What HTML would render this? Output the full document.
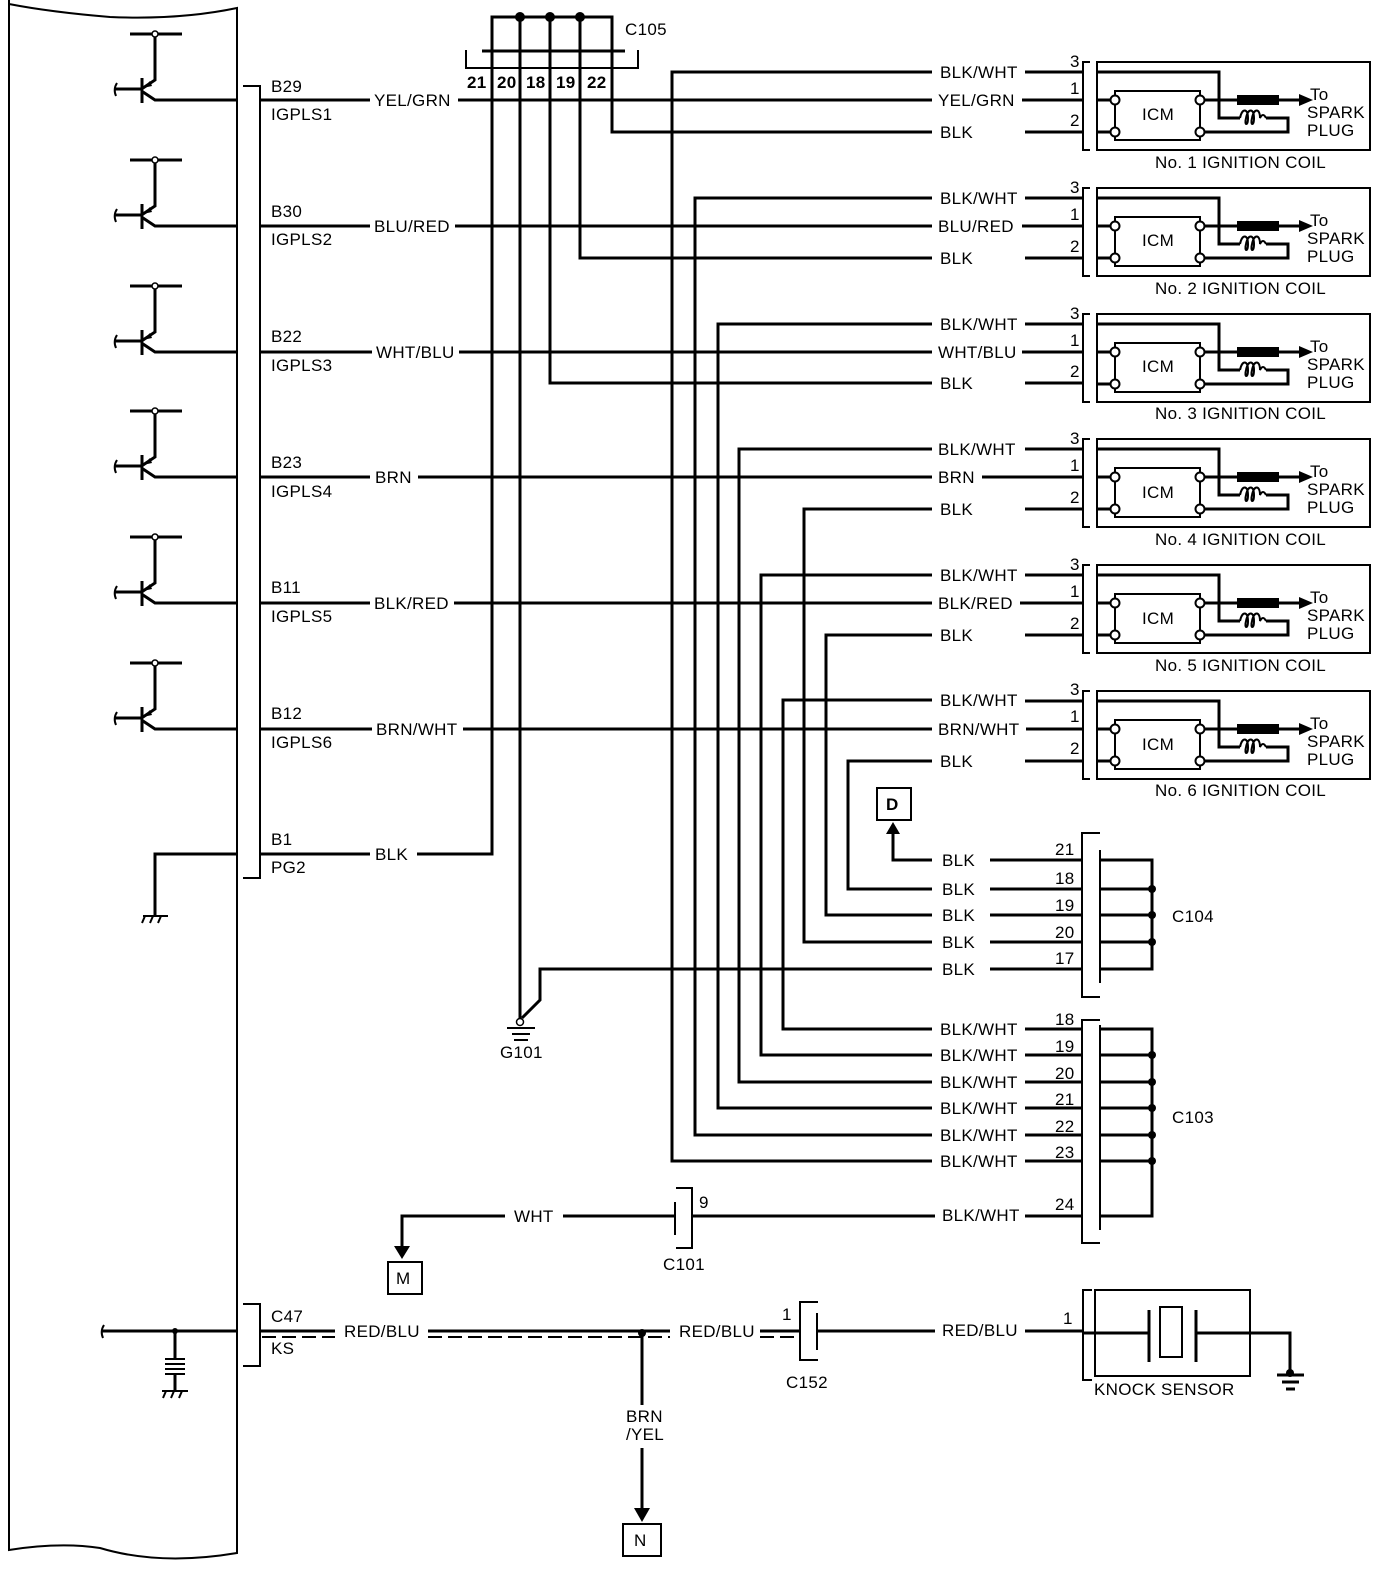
<!DOCTYPE html>
<html><head><meta charset="utf-8"><style>
html,body{margin:0;padding:0;background:#fff;}
svg{display:block;}
text{font-family:"Liberation Sans",sans-serif;font-size:17px;letter-spacing:0.3px;fill:#000;}
.w{stroke:#000;stroke-width:3;fill:none;}
.t{stroke:#000;stroke-width:2;fill:none;}
</style></head><body>
<svg width="1392" height="1572" viewBox="0 0 1392 1572" xmlns="http://www.w3.org/2000/svg">
<defs>
<g id="tr">
 <path class="w" d="M130,34 H182"/>
 <circle cx="155" cy="34" r="3" fill="#fff" stroke="#000" stroke-width="1.5"/>
 <path class="w" d="M155,37 V80 L143,88"/>
 <path class="w" d="M142,78 V103"/>
 <path class="w" d="M143,92 L155,100 H237"/>
 <path class="w" d="M115,89 H142"/>
 <path class="t" d="M117,83 Q113,89 116,96"/>
 <polygon points="143,88 150,81 152,86"/>
</g>
<g id="coil">
 <path class="t" d="M1090,62 H1083 V150 H1090"/>
 <rect x="1097" y="62" width="273" height="88" class="t"/>
 <rect x="1115" y="91" width="85" height="49" class="t"/>
 <path class="w" d="M1025,72 H1083"/>
 <path class="w" d="M1097,72 H1219 V118 H1240"/>
 <path class="t" d="M1240,118 c2,-10 8,-10 8,0 c0,8 -4,8 -2,0 c2,-10 8,-10 8,0 c0,8 -4,8 -2,0 c2,-10 8,-10 8,0 c2,-4 4,-4 6,0"/>
 <path class="w" d="M1266,118 H1288 V132 H1200"/>
 <path class="w" d="M1097,100 H1115 M1097,132 H1115"/>
 <path class="w" d="M1200,100 H1238 M1278,100 H1300"/>
 <rect x="1237" y="95" width="42" height="10"/>
 <polygon points="1299,94 1313,100 1299,106"/>
 <circle cx="1115" cy="100" r="4.5" fill="#fff" stroke="#000" stroke-width="2"/>
 <circle cx="1115" cy="132" r="4.5" fill="#fff" stroke="#000" stroke-width="2"/>
 <circle cx="1200" cy="100" r="4.5" fill="#fff" stroke="#000" stroke-width="2"/>
 <circle cx="1200" cy="132" r="4.5" fill="#fff" stroke="#000" stroke-width="2"/>
</g>
</defs>

<path class="t" d="M9,0 V1550 Q60,1542 100,1548 Q160,1566 237,1553 V8 Q180,20 110,17 Q50,12 9,4"/>

<use href="#tr"/>
<use href="#tr" y="126"/>
<use href="#tr" y="252"/>
<use href="#tr" y="377"/>
<use href="#tr" y="503"/>
<use href="#tr" y="629"/>

<path class="t" d="M243,86 H260 V878 H243"/>
<g>
<text x="271" y="92">B29</text><text x="271" y="120">IGPLS1</text>
<text x="271" y="217">B30</text><text x="271" y="245">IGPLS2</text>
<text x="271" y="342">B22</text><text x="271" y="371">IGPLS3</text>
<text x="271" y="468">B23</text><text x="271" y="497">IGPLS4</text>
<text x="271" y="593">B11</text><text x="271" y="622">IGPLS5</text>
<text x="271" y="719">B12</text><text x="271" y="748">IGPLS6</text>
<text x="271" y="845">B1</text><text x="271" y="873">PG2</text>
</g>

<path class="w" d="M237,854 H155 V915"/>
<path class="t" d="M143,916 H168 M145,916 l-3,7 M153,916 l-3,7 M161,916 l-3,7"/>

<path class="w" d="M260,100 H370 M458,100 H932 M1022,100 H1083"/>
<text x="374" y="106">YEL/GRN</text><text x="938" y="106">YEL/GRN</text>
<path class="w" d="M260,226 H370 M455,226 H932 M1022,226 H1083"/>
<text x="374" y="232">BLU/RED</text><text x="938" y="232">BLU/RED</text>
<path class="w" d="M260,352 H372 M459,352 H932 M1022,352 H1083"/>
<text x="376" y="358">WHT/BLU</text><text x="938" y="358">WHT/BLU</text>
<path class="w" d="M260,477 H370 M418,477 H932 M982,477 H1083"/>
<text x="375" y="483">BRN</text><text x="938" y="483">BRN</text>
<path class="w" d="M260,603 H370 M454,603 H932 M1020,603 H1083"/>
<text x="374" y="609">BLK/RED</text><text x="938" y="609">BLK/RED</text>
<path class="w" d="M260,729 H372 M463,729 H932 M1026,729 H1083"/>
<text x="376" y="735">BRN/WHT</text><text x="938" y="735">BRN/WHT</text>
<path class="w" d="M260,854 H370 M417,854 H492 V50"/>
<text x="375" y="860">BLK</text>

<path class="w" d="M492,50 V17 H612 V50 M520,17 V1020 M550,17 V383 H932 M580,17 V258 H932 M612,17 V132 H932"/>
<circle cx="520" cy="17" r="5"/><circle cx="550" cy="17" r="5"/><circle cx="580" cy="17" r="5"/>
<path class="w" d="M482,51 H625"/>
<path class="t" d="M466,50 V68 H638 V50"/>
<path class="t" d="M492,68 V100 M520,68 V100 M550,68 V100 M580,68 V100 M612,68 V100"/>
<text x="467" y="88" font-weight="bold" letter-spacing="0">21</text>
<text x="497" y="88" font-weight="bold" letter-spacing="0">20</text>
<text x="526" y="88" font-weight="bold" letter-spacing="0">18</text>
<text x="556" y="88" font-weight="bold" letter-spacing="0">19</text>
<text x="587" y="88" font-weight="bold" letter-spacing="0">22</text>
<text x="625" y="35">C105</text>

<use href="#coil"/>
<use href="#coil" y="126"/>
<use href="#coil" y="252"/>
<use href="#coil" y="377"/>
<use href="#coil" y="503"/>
<use href="#coil" y="629"/>
<g>
<path class="w" d="M1025,132 H1083 M1025,258 H1083 M1025,383 H1083 M1025,509 H1083 M1025,635 H1083 M1025,761 H1083"/>
<text x="940" y="78">BLK/WHT</text><text x="940" y="138">BLK</text>
<text x="940" y="204">BLK/WHT</text><text x="940" y="264">BLK</text>
<text x="940" y="330">BLK/WHT</text><text x="940" y="389">BLK</text>
<text x="938" y="455">BLK/WHT</text><text x="940" y="515">BLK</text>
<text x="940" y="581">BLK/WHT</text><text x="940" y="641">BLK</text>
<text x="940" y="706">BLK/WHT</text><text x="940" y="767">BLK</text>
</g>
<g font-size="16">
<text x="1070" y="67">3</text><text x="1070" y="94">1</text><text x="1070" y="126">2</text>
<text x="1070" y="193">3</text><text x="1070" y="220">1</text><text x="1070" y="252">2</text>
<text x="1070" y="319">3</text><text x="1070" y="346">1</text><text x="1070" y="377">2</text>
<text x="1070" y="444">3</text><text x="1070" y="471">1</text><text x="1070" y="503">2</text>
<text x="1070" y="570">3</text><text x="1070" y="597">1</text><text x="1070" y="629">2</text>
<text x="1070" y="695">3</text><text x="1070" y="722">1</text><text x="1070" y="754">2</text>
</g>
<g>
<text x="1142" y="120">ICM</text><text x="1142" y="246">ICM</text><text x="1142" y="372">ICM</text>
<text x="1142" y="498">ICM</text><text x="1142" y="624">ICM</text><text x="1142" y="750">ICM</text>
</g>
<g>
<text x="1310" y="100">To</text><text x="1307" y="118">SPARK</text><text x="1307" y="136">PLUG</text>
<text x="1310" y="226">To</text><text x="1307" y="244">SPARK</text><text x="1307" y="262">PLUG</text>
<text x="1310" y="352">To</text><text x="1307" y="370">SPARK</text><text x="1307" y="388">PLUG</text>
<text x="1310" y="477">To</text><text x="1307" y="495">SPARK</text><text x="1307" y="513">PLUG</text>
<text x="1310" y="603">To</text><text x="1307" y="621">SPARK</text><text x="1307" y="639">PLUG</text>
<text x="1310" y="729">To</text><text x="1307" y="747">SPARK</text><text x="1307" y="765">PLUG</text>
</g>
<g>
<text x="1155" y="168">No. 1 IGNITION COIL</text>
<text x="1155" y="294">No. 2 IGNITION COIL</text>
<text x="1155" y="419">No. 3 IGNITION COIL</text>
<text x="1155" y="545">No. 4 IGNITION COIL</text>
<text x="1155" y="671">No. 5 IGNITION COIL</text>
<text x="1155" y="796">No. 6 IGNITION COIL</text>
</g>

<path class="w" d="M932,72 H672 V1161 H932 M932,198 H695 V1135 H932 M932,324 H718 V1108 H932 M932,449 H739 V1082 H932 M932,575 H761 V1055 H932 M932,700 H783 V1029 H932"/>
<path class="w" d="M932,509 H804 V942 H932 M932,635 H826 V915 H932 M932,761 H848 V889 H932"/>
<path class="w" d="M932,860 H893 V832"/>
<polygon points="886,834 893,822 900,834"/>
<rect x="877" y="788" width="34" height="32" class="t"/>
<text x="886" y="810" font-weight="bold">D</text>
<path class="w" d="M932,969 H540 V1000 L522,1018"/>
<circle cx="520" cy="1022" r="3.5" fill="#fff" stroke="#000" stroke-width="1.5"/>
<path class="t" d="M507,1028 H535 M512,1034 H530 M514,1040 H528"/>
<text x="500" y="1058">G101</text>

<g>
<text x="942" y="866">BLK</text><text x="942" y="895">BLK</text><text x="942" y="921">BLK</text><text x="942" y="948">BLK</text><text x="942" y="975">BLK</text>
</g>
<path class="w" d="M990,860 H1082 M990,889 H1082 M990,915 H1082 M990,942 H1082 M990,969 H1082"/>
<path class="t" d="M1100,833 H1082 V997 H1100 M1100,850 V983"/>
<path class="w" d="M1100,860 H1152 V969 H1100 M1100,889 H1152 M1100,915 H1152 M1100,942 H1152"/>
<circle cx="1152" cy="889" r="4"/><circle cx="1152" cy="915" r="4"/><circle cx="1152" cy="942" r="4"/>
<g font-size="16">
<text x="1055" y="855">21</text><text x="1055" y="884">18</text><text x="1055" y="911">19</text><text x="1055" y="938">20</text><text x="1055" y="964">17</text>
</g>
<text x="1172" y="922">C104</text>

<g>
<text x="940" y="1035">BLK/WHT</text><text x="940" y="1061">BLK/WHT</text><text x="940" y="1088">BLK/WHT</text>
<text x="940" y="1114">BLK/WHT</text><text x="940" y="1141">BLK/WHT</text><text x="940" y="1167">BLK/WHT</text>
<text x="942" y="1221">BLK/WHT</text>
</g>
<path class="w" d="M1025,1029 H1082 M1025,1055 H1082 M1025,1082 H1082 M1025,1108 H1082 M1025,1135 H1082 M1025,1161 H1082 M1025,1216 H1082"/>
<path class="t" d="M1100,1020 H1082 V1243 H1100 M1100,1025 V1230"/>
<path class="w" d="M1100,1029 H1152 V1216 H1100 M1100,1055 H1152 M1100,1082 H1152 M1100,1108 H1152 M1100,1135 H1152 M1100,1161 H1152"/>
<circle cx="1152" cy="1055" r="4"/><circle cx="1152" cy="1082" r="4"/><circle cx="1152" cy="1108" r="4"/><circle cx="1152" cy="1135" r="4"/><circle cx="1152" cy="1161" r="4"/>
<g font-size="16">
<text x="1055" y="1025">18</text><text x="1055" y="1052">19</text><text x="1055" y="1079">20</text><text x="1055" y="1105">21</text><text x="1055" y="1132">22</text><text x="1055" y="1158">23</text><text x="1055" y="1210">24</text>
</g>
<text x="1172" y="1123">C103</text>

<path class="w" d="M505,1216 H402 V1248 M563,1216 H675 M692,1216 H935"/>
<polygon points="394,1246 410,1246 402,1259"/>
<rect x="388" y="1262" width="34" height="32" class="t"/>
<text x="396" y="1284">M</text>
<text x="514" y="1222">WHT</text>
<path class="t" d="M675,1202 V1235 M676,1188 H692 V1248 H676"/>
<text x="699" y="1208" font-size="16">9</text>
<text x="663" y="1270">C101</text>

<path class="w" d="M102,1331 H237"/>
<path class="t" d="M104,1325 Q100,1331 103,1338"/>
<circle cx="175" cy="1331" r="3"/>
<path class="w" d="M175,1331 V1358 M175,1375 V1390"/>
<path class="t" d="M165,1359 H185 M165,1364 H185 M165,1369 H185 M165,1374 H185"/>
<path class="t" d="M162,1391 H188 M166,1391 l-3,7 M174,1391 l-3,7 M182,1391 l-3,7"/>
<path class="t" d="M243,1304 H260 V1366 H243"/>
<text x="271" y="1322">C47</text><text x="271" y="1354">KS</text>
<path class="w" d="M260,1331 H335 M428,1331 H670 M760,1331 H800"/>
<path stroke="#000" stroke-width="2" stroke-dasharray="14,6" fill="none" d="M262,1337 H335 M428,1337 H670 M760,1337 H800"/>
<text x="344" y="1337">RED/BLU</text>
<text x="679" y="1337">RED/BLU</text>
<circle cx="642" cy="1333" r="4"/>
<path class="w" d="M642,1333 V1405 M642,1448 V1510"/>
<polygon points="634,1508 650,1508 642,1522"/>
<text x="626" y="1422">BRN</text><text x="626" y="1440">/YEL</text>
<rect x="623" y="1524" width="38" height="32" class="t"/>
<text x="634" y="1546">N</text>
<path class="t" d="M818,1302 H800 V1360 H818 M817,1313 V1350"/>
<text x="782" y="1320" font-size="16">1</text>
<text x="786" y="1388">C152</text>
<path class="w" d="M817,1331 H935 M1025,1331 H1082"/>
<text x="942" y="1336">RED/BLU</text>
<text x="1063" y="1324" font-size="16">1</text>
<path class="t" d="M1092,1290 H1083 V1380 H1092"/>
<rect x="1095" y="1290" width="155" height="86" class="t"/>
<path class="w" d="M1083,1333 H1148 M1196,1333 H1290 V1372"/>
<path class="w" d="M1149,1310 V1362 M1196,1310 V1362"/>
<rect x="1160" y="1307" width="22" height="50" class="t"/>
<circle cx="1290" cy="1373" r="4"/>
<path class="w" d="M1277,1375 H1304 M1282,1382 H1299 M1286,1389 H1295"/>
<text x="1094" y="1395">KNOCK SENSOR</text>
</svg>
</body></html>
